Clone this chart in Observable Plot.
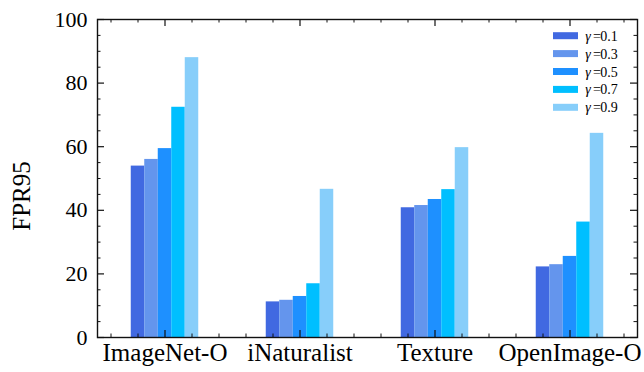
<!DOCTYPE html>
<html><head><meta charset="utf-8">
<script src="https://cdn.jsdelivr.net/npm/d3@7"></script>
<script src="https://cdn.jsdelivr.net/npm/@observablehq/plot@0.6"></script>
<style>body{margin:0;background:#fff}</style>
</head><body><div id="chart"></div>
<script>
const categories = ["ImageNet-O", "iNaturalist", "Texture", "OpenImage-O"];
const gammas = ["0.1", "0.3", "0.5", "0.7", "0.9"];
const colors = ["#4169E1", "#6495ED", "#1E90FF", "#00BFFF", "#87CEFA"];
const gamma01 = [53.9, 11.2, 40.8, 22.2];
const gamma03 = [56.0, 11.7, 41.5, 22.9];
const gamma05 = [59.4, 12.9, 43.4, 25.5];
const gamma07 = [72.4, 16.9, 46.5, 36.3];
const gamma09 = [88.0, 46.6, 59.7, 64.2];
const yTicks = [0, 20, 40, 60, 80, 100];
const yLabel = "FPR95";

const series = [gamma01, gamma03, gamma05, gamma07, gamma09];
const barW = 0.1;
const rows = [];
series.forEach((vals, j) => vals.forEach((v, i) => rows.push({
  cat: categories[i], gamma: gammas[j],
  x1: i + (j - 2) * barW - barW / 2, x2: i + (j - 2) * barW + barW / 2, value: v
})));

const W = 644, H = 372, mL = 97, mR = 7, mT = 19, mB = 35;
const fw = W - mL - mR, fh = H - mT - mB;
const xMajor = categories.map((_, i) => i);
const xMinor = d3.range(-2, 18).map(k => k * 0.2).filter(v => Math.abs(v - Math.round(v)) > 1e-6);
const yMinor = d3.range(0, 101, 5).filter(v => v % 20 !== 0);
const majL = 7, minL = 3.5;
const font = "Liberation Serif, Times New Roman, serif";

const chart = Plot.plot({
  width: W, height: H,
  marginLeft: mL, marginRight: mR, marginTop: mT, marginBottom: mB,
  style: {background: "#fff", color: "#000"},
  x: {domain: [-0.5, 3.5]},
  y: {domain: [0, 100]},
  color: {domain: gammas, range: colors},
  marks: [
    Plot.rectY(rows, {x1: "x1", x2: "x2", y1: 0, y2: "value", fill: "gamma"}),
    Plot.tickX(xMajor, {x: d => d, insetTop: fh - majL, stroke: "#111", strokeWidth: 1.2}),
    Plot.tickX(xMajor, {x: d => d, insetBottom: fh - majL, stroke: "#111", strokeWidth: 1.2}),
    Plot.tickX(xMinor, {x: d => d, insetTop: fh - minL, stroke: "#111", strokeWidth: 1}),
    Plot.tickX(xMinor, {x: d => d, insetBottom: fh - minL, stroke: "#111", strokeWidth: 1}),
    Plot.tickY(yTicks, {y: d => d, insetRight: fw - majL, stroke: "#111", strokeWidth: 1.2}),
    Plot.tickY(yTicks, {y: d => d, insetLeft: fw - majL, stroke: "#111", strokeWidth: 1.2}),
    Plot.tickY(yMinor, {y: d => d, insetRight: fw - minL, stroke: "#111", strokeWidth: 1}),
    Plot.tickY(yMinor, {y: d => d, insetLeft: fw - minL, stroke: "#111", strokeWidth: 1}),
    Plot.axisX({ticks: xMajor, tickFormat: i => categories[i], tickSize: 0, tickPadding: 6, label: null}),
    Plot.axisY({ticks: yTicks, tickSize: 0, tickPadding: 10, label: null}),
    Plot.frame({stroke: "#111", strokeWidth: 1.4})
  ]
});

const svg = d3.select(chart);
svg.selectAll("text").style("font-family", font);
svg.selectAll("g[aria-label='x-axis tick label'] text").style("font-size", "25px");
svg.selectAll("g[aria-label='y-axis tick label'] text").style("font-size", "22px");

// y-axis title
svg.append("text")
  .attr("transform", `translate(24,${mT + fh / 2 + 18}) rotate(-90)`)
  .attr("text-anchor", "middle").attr("dominant-baseline", "middle").attr("fill", "#000")
  .style("font-family", font).style("font-size", "25px").text(yLabel);

// legend (inside, top right)
const lg = svg.append("g");
gammas.forEach((g, j) => {
  const cy = 35.7 + j * 17.9;
  lg.append("rect").attr("x", 553).attr("y", cy - 3.5).attr("width", 25).attr("height", 7).attr("fill", colors[j]);
  lg.append("text").attr("x", 588).attr("y", cy + 5).attr("fill", "#000")
    .style("font-family", font).style("font-size", "14px").style("font-style", "italic").text("γ");
  lg.append("text").attr("x", 597).attr("y", cy + 5).attr("fill", "#000")
    .style("font-family", font).style("font-size", "14px").text("=");
  lg.append("text").attr("x", 609).attr("y", cy + 5).attr("fill", "#000")
    .style("font-family", font).style("font-size", "14px").text(g);
});
document.getElementById("chart").appendChild(chart);
</script>
</body></html>
